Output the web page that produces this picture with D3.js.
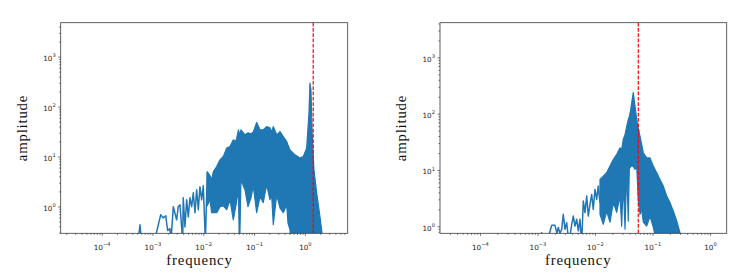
<!DOCTYPE html>
<html>
<head>
<meta charset="utf-8">
<script src="https://cdn.jsdelivr.net/npm/d3@7"></script>
<style>
body { margin: 0; background: #fff; }
svg { display: block; }
</style>
</head>
<body>
<svg width="747" height="279"></svg>
<script>
// left spectrum: sparse low-frequency part, then the dense band (upper / lower envelope)
const leftTraceF = [5.19e-4, 5.68e-4, 6.07e-4, 1.09e-3, 1.45e-3, 1.63e-3, 1.82e-3, 1.99e-3, 2.21e-3, 2.31e-3,
	2.57e-3, 2.99e-3, 3.22e-3, 3.48e-3, 3.93e-3, 4.03e-3, 4.36e-3, 4.71e-3, 5.07e-3, 5.47e-3,
	5.91e-3, 6.36e-3, 6.87e-3, 7.41e-3, 7.98e-3, 8.61e-3, 9.30e-3, 1.0e-2, 1.10e-2, 1.20e-2];
const leftTraceA = [0.2, 0.43, 0.2, 0.2, 0.68, 0.59, 0.65, 0.33, 0.36, 0.2,
	0.99, 0.54, 0.99, 1.08, 0.2, 1.49, 0.39, 1.36, 0.62, 1.49,
	0.99, 1.88, 0.75, 2.16, 0.86, 2.48, 1.36, 2.6, 0.2, 4.94];

const leftBandF = [0.0120, 0.01355, 0.01462, 0.01574, 0.01837, 0.02133, 0.02477, 0.0289, 0.0336, 0.0390,
	0.0441, 0.0493, 0.0516, 0.0552, 0.0662, 0.0759, 0.0869, 0.0964, 0.1125, 0.1306,
	0.1517, 0.177, 0.2056, 0.2218, 0.2388, 0.2786, 0.3236, 0.3758, 0.4385, 0.4645,
	0.509, 0.557, 0.638, 0.80, 0.931, 1.084, 1.205, 1.259, 1.318, 1.40,
	1.51, 1.71, 1.98, 2.20];
const leftBandHi = [4.94, 4.11, 3.42, 4.94, 6.31, 8.59, 10, 14.7, 15.8, 21.6,
	20, 34.2, 27.2, 34.2, 27.2, 29.8, 28.4, 31.2, 47.9, 34.2,
	34.2, 39.8, 37.5, 31.2, 39.8, 27.2, 31.6, 25.1, 20, 17.1,
	13.6, 12.4, 10.8, 9.29, 10, 14.7, 74.8, 294, 216, 25.1,
	5.42, 1.85, 0.63, 0.27];
const leftBandLo = [1.03, 1.36, 0.75, 0.75, 0.75, 0.99, 1.03, 0.86, 1.36, 0.54,
	1.08, 2.16, 0.1, 3.42, 2.16, 0.99, 1.49, 2.59, 0.75, 1.56,
	1.19, 2.72, 1.36, 1.71, 0.43, 1.71, 0.94, 0.75, 1.08, 0.47,
	0.34, 0.1, 0.1, 0.1, 0.1, 0.1, 0.1, 0.1, 0.1, 0.1,
	0.1, 0.1, 0.1, 0.1];
const leftCutoff = 1.46;

// right spectrum
const rightTraceF = [1.02e-3, 1.18e-3, 1.35e-3, 1.58e-3, 1.77e-3, 2.02e-3, 2.18e-3, 2.30e-3, 2.46e-3, 2.64e-3,
	2.81e-3, 3.01e-3, 3.22e-3, 3.53e-3, 3.94e-3, 4.20e-3, 4.49e-3, 4.81e-3, 5.13e-3, 5.48e-3,
	5.87e-3, 6.26e-3, 6.70e-3, 7.17e-3, 7.64e-3, 8.18e-3, 8.76e-3, 9.34e-3, 1.0e-2, 1.07e-2,
	1.14e-2, 1.22e-2];
const rightTraceA = [0.5, 0.77, 0.5, 0.69, 1.04, 1.04, 0.75, 0.95, 0.75, 0.885,
	1.63, 0.885, 1.16, 0.5, 1.08, 1.52, 1.01, 1.33, 0.83, 1.33,
	0.5, 2.80, 1.75, 3.44, 1.52, 2.45, 3.68, 2.0, 4.52, 3.0,
	5.17, 2.63];

const rightBandF = [0.01222, 0.01393, 0.01595, 0.01824, 0.0208, 0.0238, 0.0272, 0.0291, 0.0310, 0.0333,
	0.0356, 0.0379, 0.0395, 0.0418, 0.0435, 0.0463, 0.0497, 0.0531, 0.0566, 0.0607,
	0.0649, 0.0692, 0.0792, 0.0906, 0.1033, 0.1183, 0.1349, 0.1542, 0.1766, 0.2014,
	0.2301, 0.2636, 0.3006, 0.326];
const rightBandHi = [6.79, 7.77, 8.92, 11.7, 15.3, 18.8, 24.7, 23.1, 34.7, 42.5,
	59.6, 78.3, 88.5, 118, 155, 238, 135, 78.3, 55.8, 39.7,
	28.3, 20.2, 16.4, 16.4, 11.7, 8.92, 6.79, 5.17, 3.44, 2.63,
	1.87, 1.24, 0.77, 0.5];
const rightBandLo = [1.63, 1.08, 1.84, 1.18, 2.63, 1.77, 3.44, 1.0, 5.93, 0.885,
	10.2, 1.23, 10.2, 11.7, 11.7, 11.7, 10.2, 11.7, 3.0, 1.63,
	2.0, 1.18, 1.01, 1.50, 0.96, 0.5, 0.5, 0.5, 0.5, 0.5,
	0.5, 0.5, 0.5, 0.5];
const rightCutoff = 0.0566;

const panels = [
	{ id: "l", left: 60.7, right: 347.7, xDomain: [1.56e-5, 6.97], yDomain: [0.29, 4786],
		traceF: leftTraceF, traceA: leftTraceA, bandF: leftBandF, bandHi: leftBandHi, bandLo: leftBandLo,
		cutoff: leftCutoff, xLabelX: 199.5, yLabelX: 26.5 },
	{ id: "r", left: 440, right: 726.7, xDomain: [2.02e-5, 1.95], yDomain: [0.75, 4130],
		traceF: rightTraceF, traceA: rightTraceA, bandF: rightBandF, bandHi: rightBandHi, bandLo: rightBandLo,
		cutoff: rightCutoff, xLabelX: 578.2, yLabelX: 405.5 }
];

const plotTop = 22.7;
const plotBottom = 233.3;
const blue = "#1f77b4";
const svg = d3.select("svg");

function logTicks(domain) {
	const lo = Math.floor(Math.log10(domain[0]));
	const hi = Math.ceil(Math.log10(domain[1]));
	const major = [];
	const minor = [];
	for (let k = lo; k <= hi; k++) {
		const base = Math.pow(10, k);
		if (base >= domain[0] && base <= domain[1]) major.push(base);
		for (let m = 2; m <= 9; m++) {
			const v = m * base;
			if (v >= domain[0] && v <= domain[1]) minor.push(v);
		}
	}
	return { major, minor, exp: d => Math.round(Math.log10(d)) };
}

function superLabel(sel, t) {
	sel.each(function(d) {
		const text = d3.select(this).text(null);
		text.append("tspan").text("10");
		const e = t.exp(d);
		text.append("tspan")
			.attr("dy", -3.7)
			.attr("font-size", 5.2)
			.text(e < 0 ? "\u2212" + (-e) : String(e));
	});
}

function drawPanel(p) {
	const x = d3.scaleLog().domain(p.xDomain).range([p.left, p.right]);
	const y = d3.scaleLog().domain(p.yDomain).range([plotBottom, plotTop]);
	const g = svg.append("g");

	g.append("clipPath").attr("id", "clip-" + p.id)
		.append("rect")
		.attr("x", p.left).attr("y", plotTop)
		.attr("width", p.right - p.left).attr("height", plotBottom - plotTop);

	const plot = g.append("g").attr("clip-path", `url(#clip-${p.id})`);

	const band = p.bandF.map((f, i) => ({ f, hi: p.bandHi[i], lo: p.bandLo[i] }));
	const trace = p.traceF.map((f, i) => ({ f, a: p.traceA[i] }));

	plot.append("path")
		.datum(band)
		.attr("fill", blue)
		.attr("stroke", blue)
		.attr("stroke-width", 1.2)
		.attr("stroke-linejoin", "round")
		.attr("d", d3.area().x(d => x(d.f)).y0(d => y(d.lo)).y1(d => y(d.hi)));

	plot.append("path")
		.datum(trace)
		.attr("fill", "none")
		.attr("stroke", blue)
		.attr("stroke-width", 1.5)
		.attr("stroke-linejoin", "round")
		.attr("d", d3.line().x(d => x(d.f)).y(d => y(d.a)));

	plot.append("line")
		.attr("x1", x(p.cutoff)).attr("x2", x(p.cutoff))
		.attr("y1", plotTop).attr("y2", plotBottom)
		.attr("stroke", "#ff0000")
		.attr("stroke-width", 1.2)
		.attr("stroke-dasharray", "3.7,1.6");

	const tx = logTicks(p.xDomain);
	const ty = logTicks(p.yDomain);

	g.append("g").attr("transform", `translate(0,${plotBottom})`)
		.call(d3.axisBottom(x).tickValues(tx.minor).tickSize(1.5).tickSizeOuter(0).tickFormat(""));
	const xMajor = g.append("g").attr("transform", `translate(0,${plotBottom})`)
		.call(d3.axisBottom(x).tickValues(tx.major).tickSize(2.5).tickSizeOuter(0));
	xMajor.selectAll(".tick text")
		.attr("y", 16.8).attr("dy", null)
		.call(superLabel, tx);

	g.append("g").attr("transform", `translate(${p.left},0)`)
		.call(d3.axisLeft(y).tickValues(ty.minor).tickSize(1.5).tickSizeOuter(0).tickFormat(""));
	const yMajor = g.append("g").attr("transform", `translate(${p.left},0)`)
		.call(d3.axisLeft(y).tickValues(ty.major).tickSize(2.5).tickSizeOuter(0));
	yMajor.selectAll(".tick text")
		.attr("x", -5).attr("dy", 3.9)
		.call(superLabel, ty);

	g.selectAll(".domain").remove();
	g.selectAll(".tick line").attr("stroke", "#333").attr("stroke-width", 0.7);
	g.selectAll(".tick text")
		.attr("font-family", "DejaVu Sans")
		.attr("font-size", 7.2)
		.attr("fill", "#262626");

	g.append("rect")
		.attr("x", p.left).attr("y", plotTop)
		.attr("width", p.right - p.left).attr("height", plotBottom - plotTop)
		.attr("fill", "none")
		.attr("stroke", "#3a3a3a")
		.attr("stroke-width", 0.8);

	g.append("text")
		.attr("x", p.xLabelX).attr("y", 264.8)
		.attr("text-anchor", "middle")
		.attr("font-family", "Liberation Serif")
		.attr("font-size", 14.8)
		.attr("letter-spacing", 0.8)
		.attr("fill", "#111")
		.text("frequency");

	g.append("text")
		.attr("transform", `translate(${p.yLabelX},${(plotTop + plotBottom) / 2}) rotate(-90)`)
		.attr("text-anchor", "middle")
		.attr("font-family", "Liberation Serif")
		.attr("font-size", 14.8)
		.attr("letter-spacing", 0.8)
		.attr("fill", "#111")
		.text("amplitude");
}

panels.forEach(drawPanel);
</script>
</body>
</html>
